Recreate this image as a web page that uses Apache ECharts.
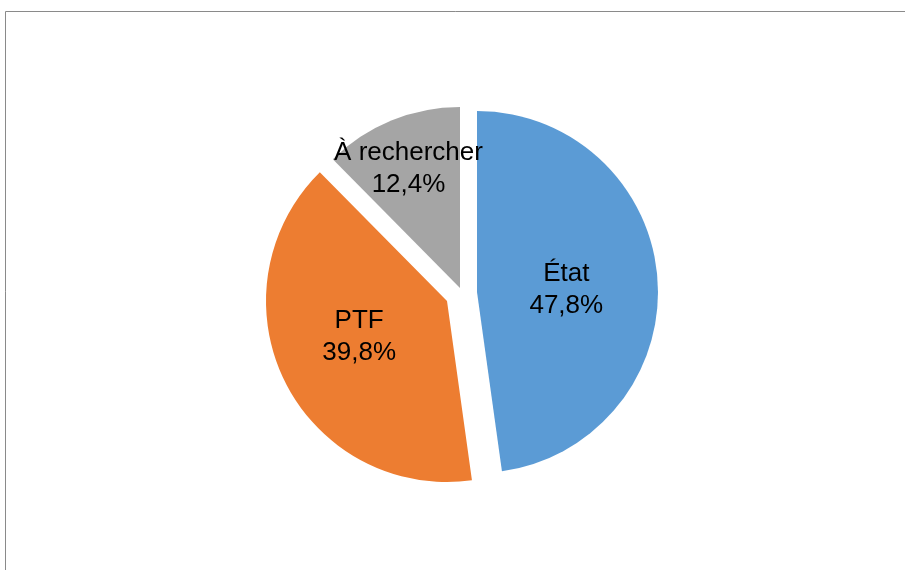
<!DOCTYPE html>
<html><head><meta charset="utf-8">
<script src="https://cdn.jsdelivr.net/npm/echarts@6/dist/echarts.min.js"></script>
<style>html,body{margin:0;padding:0;background:#fff}#c{width:905px;height:570px}</style>
</head><body><div id="c"></div>
<script>
// ---- data ----
const categories = ['État', 'PTF', 'À rechercher'];
const shares = [47.8, 39.8, 12.4];
const colors = ['#5B9BD5', '#ED7D31', '#A5A5A5'];

// ---- layout (exploded slice centres, label nudges) ----
const sliceCenters = [[477, 292], [447, 301], [460, 288]];
const labelNudge = [[-4, 4], [-4, -6], [-16, -33]];
const radius = 181;

function fmt(v) { return v.toFixed(1).replace('.', ',') + '%'; }

const chart = echarts.init(document.getElementById('c'), null, { renderer: 'canvas' });

const series = categories.map(function (own, k) {
  return {
    type: 'pie',
    center: sliceCenters[k],
    radius: [0, radius],
    startAngle: 90,
    clockwise: true,
    silent: true,
    avoidLabelOverlap: false,
    emphasis: { disabled: true },
    labelLine: { show: false },
    labelLayout: function () { return { dx: labelNudge[k][0], dy: labelNudge[k][1] }; },
    data: categories.map(function (name, i) {
      const mine = i === k;
      return {
        name: name,
        value: shares[i],
        itemStyle: { color: mine ? colors[i] : 'rgba(0,0,0,0)', borderWidth: 0 },
        label: mine ? {
          show: true,
          position: 'inside',
          formatter: function (p) { return p.name + '\n' + fmt(p.value); },
          fontFamily: 'Liberation Sans, Arial, sans-serif',
          fontSize: 26,
          lineHeight: 32,
          color: '#000',
          textBorderWidth: 0
        } : { show: false }
      };
    })
  };
});

chart.setOption({
  animation: false,
  backgroundColor: '#ffffff',
  graphic: [{
    type: 'rect',
    shape: { x: 5.5, y: 11.5, width: 960, height: 700 },
    style: { fill: 'none', stroke: '#8a8a8a', lineWidth: 1 },
    silent: true,
    z: -10
  }],
  series: series
});
</script>
</body></html>
